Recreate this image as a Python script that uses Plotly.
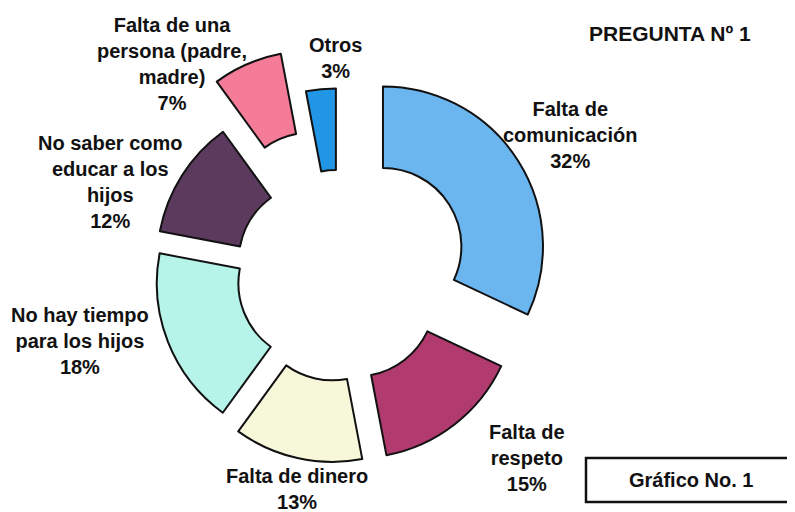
import plotly.graph_objects as go

labels = ["Falta de<br>comunicación", "Falta de<br>respeto", "Falta de dinero",
          "No hay tiempo<br>para los hijos", "No saber como<br>educar a los<br>hijos",
          "Falta de una<br>persona (padre,<br>madre)", "Otros"]
values = [32, 15, 13, 18, 12, 7, 3]
colors = ["#6CB6F0", "#B13A6E", "#F7F7DA", "#B6F4EA", "#5B3A5E", "#F47C98", "#2196E6"]
pulls = [0.33, 0.184, 0.174, 0.145, 0.158, 0.434, 0.165]

# label anchor positions (screen pixels) for each slice's text
label_px = [(570, 135), (527, 458), (297, 489), (80, 341), (110, 182), (172, 64), (335, 58)]

W, H = 787, 504   # page body has an 8px default margin
OFF = 8


def px(x):
    return (x - OFF) / W


def py(y):
    return 1 - (y - OFF) / H


fig = go.Figure()
fig.add_trace(go.Pie(
    labels=labels, values=values, sort=False, direction="clockwise", rotation=0,
    hole=0.49, pull=pulls,
    marker=dict(colors=colors, line=dict(color="#111111", width=2)),
    textinfo="none", hoverinfo="label+percent", showlegend=False,
    domain=dict(x=[0.1198, 0.7198], y=[0.01548, 0.926]),
))

total = sum(values)
for lab, v, (x, y) in zip(labels, values, label_px):
    fig.add_annotation(
        x=px(x), y=py(y), xref="paper", yref="paper",
        text=f"<b>{lab}<br>{round(100 * v / total)}%</b>", showarrow=False,
        font=dict(family="Liberation Sans, Arial, sans-serif", size=20, color="#111111"),
        xanchor="center", yanchor="middle", align="center",
    )

fig.add_annotation(
    x=px(670), y=py(33), xref="paper", yref="paper", text="<b>PREGUNTA Nº 1</b>",
    showarrow=False, xanchor="center", yanchor="middle",
    font=dict(family="Liberation Sans, Arial, sans-serif", size=21, color="#111111"),
)

fig.add_shape(type="rect", xref="paper", yref="paper",
              x0=px(586), x1=px(792), y0=py(502), y1=py(458),
              line=dict(color="#111111", width=2.5), fillcolor="white")
fig.add_annotation(
    x=px(691), y=py(480), xref="paper", yref="paper", text="<b>Gráfico No. 1</b>",
    showarrow=False, xanchor="center", yanchor="middle",
    font=dict(family="Liberation Sans, Arial, sans-serif", size=20, color="#111111"),
)

fig.update_layout(
    width=W, height=H, margin=dict(l=0, r=0, t=0, b=0),
    paper_bgcolor="white", plot_bgcolor="white",
)
fig.write_html("out.html")
